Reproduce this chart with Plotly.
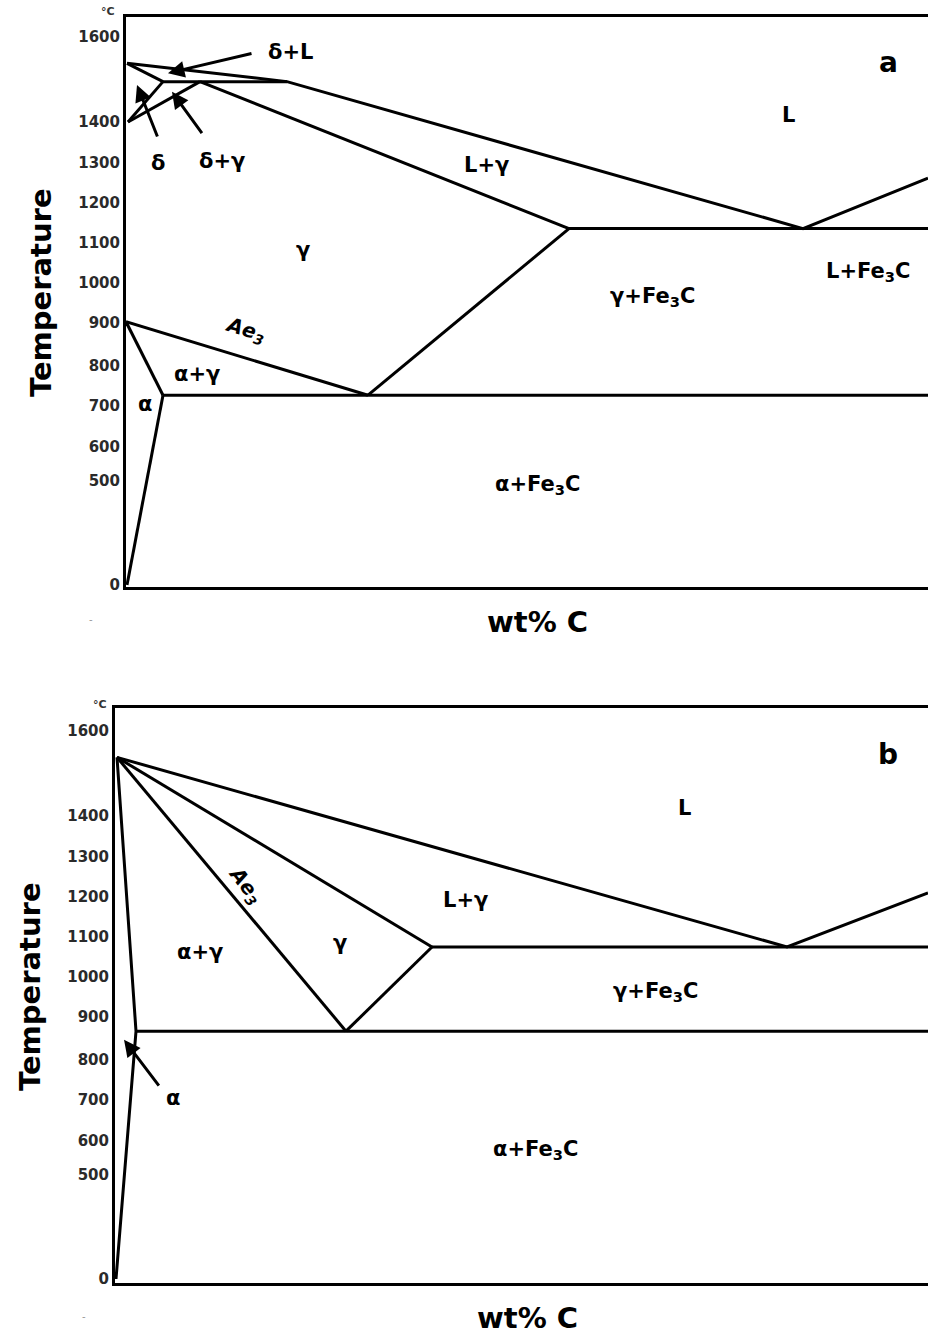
import numpy as np
import plotly.graph_objects as go

W, H = 928, 1337

# Temperature scale: evenly spaced above 500 °C, compressed below it.
TEMP_TICKS = [0, 500, 600, 700, 800, 900, 1000, 1100, 1200, 1300, 1400, 1600]
TICK_POS = [0, 104, 138, 179, 219, 262, 302, 342, 382, 422, 463, 548]
TICK_TEXT = [str(t) for t in TEMP_TICKS]


def to_axis(temps):
    """Place temperatures (°C) on the broken vertical scale."""
    return np.interp(temps, TEMP_TICKS, TICK_POS)


# ---- panel a: Fe–C (schematic composition units) ----
a_liquidus_x = [0.01, 1.61, 6.77, 8.02]
a_liquidus_t = [1538, 1495, 1136, 1262]
a_delta_solidus_x = [0.01, 0.37]
a_delta_solidus_t = [1538, 1495]
a_peritectic_x = [0.37, 1.61]
a_peritectic_t = [1495, 1495]
a_delta_solvus_x = [0.02, 0.37]
a_delta_solvus_t = [1400, 1495]
a_gamma_delta_x = [0.02, 0.74]
a_gamma_delta_t = [1400, 1495]
a_gamma_solidus_x = [0.74, 4.43]
a_gamma_solidus_t = [1495, 1136]
a_eutectic_x = [4.43, 8.02]
a_eutectic_t = [1136, 1136]
a_acm_x = [2.42, 4.43]
a_acm_t = [727, 1136]
a_ae3_x = [0.0, 2.42]
a_ae3_t = [903, 727]
a_alpha_gamma_x = [0.0, 0.37]
a_alpha_gamma_t = [903, 727]
a_eutectoid_x = [0.37, 8.02]
a_eutectoid_t = [727, 727]
a_alpha_solvus_x = [0.37, 0.01]
a_alpha_solvus_t = [727, 0]

# ---- panel b: alloyed steel (schematic composition units) ----
b_liquidus_x = [0.02, 6.72, 8.13]
b_liquidus_t = [1538, 1075, 1210]
b_solidus_x = [0.02, 3.17]
b_solidus_t = [1538, 1075]
b_eutectic_x = [3.17, 8.13]
b_eutectic_t = [1075, 1075]
b_ae3_x = [0.02, 2.31]
b_ae3_t = [1538, 867]
b_acm_x = [2.31, 3.17]
b_acm_t = [867, 1075]
b_alpha_x = [0.02, 0.21, 0.01]
b_alpha_t = [1538, 867, 0]
b_eutectoid_x = [0.21, 8.13]
b_eutectoid_t = [867, 867]

panel_a_lines = [
    (a_liquidus_x, a_liquidus_t), (a_delta_solidus_x, a_delta_solidus_t),
    (a_peritectic_x, a_peritectic_t), (a_delta_solvus_x, a_delta_solvus_t),
    (a_gamma_delta_x, a_gamma_delta_t), (a_gamma_solidus_x, a_gamma_solidus_t),
    (a_eutectic_x, a_eutectic_t), (a_acm_x, a_acm_t), (a_ae3_x, a_ae3_t),
    (a_alpha_gamma_x, a_alpha_gamma_t), (a_eutectoid_x, a_eutectoid_t),
    (a_alpha_solvus_x, a_alpha_solvus_t),
]
panel_b_lines = [
    (b_liquidus_x, b_liquidus_t), (b_solidus_x, b_solidus_t),
    (b_eutectic_x, b_eutectic_t), (b_ae3_x, b_ae3_t), (b_acm_x, b_acm_t),
    (b_alpha_x, b_alpha_t), (b_eutectoid_x, b_eutectoid_t),
]

# Phase-field labels: (text, composition, temperature)
FE3C = "Fe<sub>3</sub>C"
AE3 = "<i>Ae<sub>3</sub></i>"
a_labels = [
    ("δ+L", 1.64, 1565), ("δ", 0.32, 1300), ("δ+γ", 0.96, 1305),
    ("L", 6.62, 1416), ("L+γ", 3.60, 1295), ("γ", 1.77, 1082),
    ("L+" + FE3C, 7.42, 1027), ("γ+" + FE3C, 5.26, 965),
    ("α+γ", 0.71, 780), ("α", 0.19, 705), ("α+" + FE3C, 4.11, 481),
]
b_labels = [
    ("L", 5.69, 1419), ("L+γ", 3.50, 1192), ("γ", 2.25, 1085),
    ("α+γ", 0.85, 1062), ("γ+" + FE3C, 5.40, 962), ("α", 0.58, 705),
    ("α+" + FE3C, 4.20, 574),
]
# Ae3 labels along their boundary lines: (composition, temperature, angle)
a_ae3_label = (1.19, 884, 17)
b_ae3_label = (1.30, 1230, 52)

# Pointer arrows: (head x, head T, tail x, tail T)
a_arrows = [
    (0.42, 1515, 1.27, 1562),   # δ+L
    (0.11, 1487, 0.32, 1361),   # δ
    (0.46, 1471, 0.77, 1369),   # δ+γ
]
b_arrows = [
    (0.09, 847, 0.45, 732),     # α
]

LABEL_FONT = dict(family="DejaVu Sans", size=21, color="black", weight="bold")
AE3_FONT = dict(family="DejaVu Sans", size=20, color="black", weight="bold")
TICK_FONT = dict(family="DejaVu Sans", size=15, color="#2a2a2a", weight="bold")
TITLE_FONT = dict(family="DejaVu Sans", size=29, color="black", weight="bold")
LETTER_FONT = dict(family="DejaVu Sans", size=28, color="black", weight="bold")

fig = go.Figure()
for lines, xa, ya in ((panel_a_lines, "x", "y"), (panel_b_lines, "x2", "y2")):
    for xs, ts in lines:
        fig.add_trace(go.Scatter(
            x=xs, y=to_axis(ts), mode="lines", xaxis=xa, yaxis=ya,
            line=dict(color="black", width=3), hoverinfo="skip",
            showlegend=False))

annotations = []
for labels, xr, yr in ((a_labels, "x", "y"), (b_labels, "x2", "y2")):
    for text, x, t in labels:
        annotations.append(dict(
            text=text, x=x, y=float(to_axis(t)), xref=xr, yref=yr,
            xanchor="center", yanchor="middle", showarrow=False, font=LABEL_FONT))

for (x, t, ang), xr, yr in ((a_ae3_label, "x", "y"), (b_ae3_label, "x2", "y2")):
    annotations.append(dict(text=AE3, x=x, y=float(to_axis(t)), xref=xr, yref=yr,
                            xanchor="center", yanchor="middle", showarrow=False,
                            textangle=ang, font=AE3_FONT))

for arrows, xr, yr in ((a_arrows, "x", "y"), (b_arrows, "x2", "y2")):
    for hx, ht, tx, tt in arrows:
        annotations.append(dict(
            text="", x=hx, y=float(to_axis(ht)), ax=tx, ay=float(to_axis(tt)),
            xref=xr, yref=yr, axref=xr, ayref=yr, showarrow=True,
            arrowhead=2, arrowsize=1.1, arrowwidth=3, arrowcolor="black"))

# panel letters
annotations.append(dict(text="a", x=7.62, y=float(to_axis(1541)), xref="x", yref="y",
                        xanchor="center", yanchor="middle", showarrow=False,
                        font=LETTER_FONT))
annotations.append(dict(text="b", x=7.73, y=float(to_axis(1544)), xref="x2", yref="y2",
                        xanchor="center", yanchor="middle", showarrow=False,
                        font=LETTER_FONT))


def paper_text(text, xp, yp, font, angle=0):
    """Text placed by page pixel position."""
    return dict(text=text, x=xp / W, y=1 - yp / H, xref="paper", yref="paper",
                xanchor="center", yanchor="middle", showarrow=False,
                textangle=angle, font=font)


for (xp, yp) in ((41, 293), (30, 987)):
    annotations.append(paper_text("Temperature", xp, yp, TITLE_FONT, -90))
for (xp, yp) in ((537, 622), (527, 1318)):
    annotations.append(paper_text("wt% C", xp, yp, TITLE_FONT))
for (xp, yp) in ((108, 12), (100, 704)):
    annotations.append(paper_text("°C", xp, yp,
                                  dict(family="DejaVu Sans", size=11, color="#333333",
                                       weight="bold")))
for (xp, yp) in ((91, 619), (84, 1316)):
    annotations.append(paper_text("-", xp, yp,
                                  dict(family="DejaVu Sans", size=10, color="#999999")))

common_x = dict(showline=True, mirror=True, linewidth=3, linecolor="black",
                showticklabels=False, showgrid=False, zeroline=False, ticks="",
                automargin=False, fixedrange=True)
common_y = dict(showline=True, mirror=False, linewidth=3, linecolor="black",
                tickvals=TICK_POS, ticktext=TICK_TEXT, tickfont=TICK_FONT,
                showgrid=False, zeroline=False, ticks="", automargin=False,
                fixedrange=True)

fig.update_layout(
    width=W, height=H, margin=dict(l=0, r=0, t=0, b=0),
    paper_bgcolor="white", plot_bgcolor="white", showlegend=False,
    xaxis=dict(domain=[126 / W, 1], range=[0, 8.02], anchor="y", **common_x),
    yaxis=dict(domain=[1 - 587 / H, 1 - 17 / H], range=[-2, 568], anchor="x", **common_y),
    xaxis2=dict(domain=[115 / W, 1], range=[0, 8.13], anchor="y2", **common_x),
    yaxis2=dict(domain=[1 - 1283 / H, 1 - 708 / H], range=[-4, 571], anchor="x2", **common_y),
    annotations=annotations,
)

fig.write_html("out.html", config={"displayModeBar": False})
